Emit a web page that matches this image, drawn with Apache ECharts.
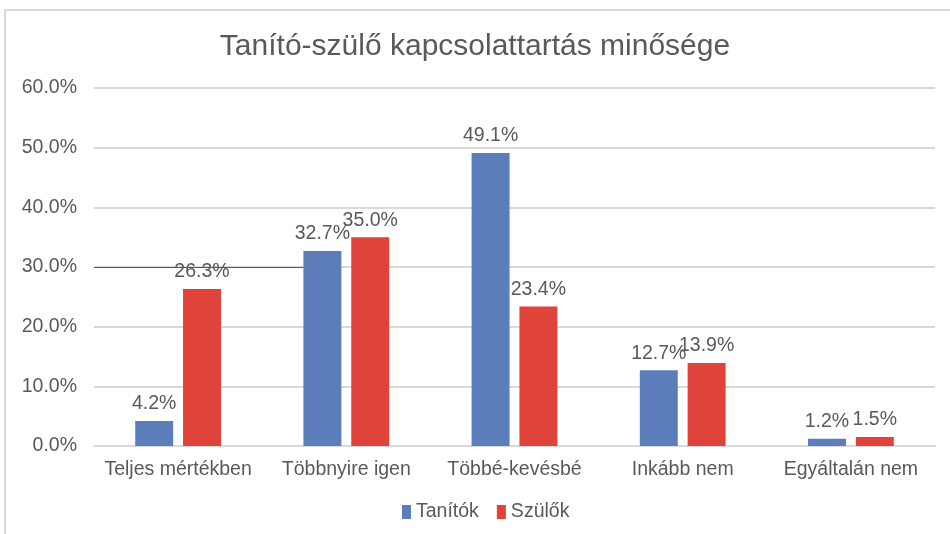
<!DOCTYPE html>
<html>
<head>
<meta charset="utf-8">
<script src="https://cdn.jsdelivr.net/npm/echarts@6/dist/echarts.min.js"></script>
<style>html,body{margin:0;padding:0;background:#fff}#c{width:950px;height:534px}</style>
</head>
<body>
<div id="c"></div>
<script>
var titleText = 'Tanító-szülő kapcsolattartás minősége';
var categories = ['Teljes mértékben', 'Többnyire igen', 'Többé-kevésbé', 'Inkább nem', 'Egyáltalán nem'];
var seriesNames = ['Tanítók', 'Szülők'];
var tanitok = [4.2, 32.7, 49.1, 12.7, 1.2];
var szulok = [26.3, 35.0, 23.4, 13.9, 1.5];
var yTicks = [0, 10, 20, 30, 40, 50, 60];

var txt = '#595959';
var font = 'Liberation Sans';
var fs = 19.5;
var barGapFrac = 0.26, catGapFrac = 0.49;
var chart = echarts.init(document.getElementById('c'));
function lbl() {
  return {show: true, position: 'top', distance: 7, color: txt, fontFamily: font, fontSize: fs,
    formatter: function (p) { return p.value.toFixed(1) + '%'; }};
}
chart.setOption({
  animation: false,
  title: {text: titleText, left: 'center', top: 27,
    textStyle: {color: txt, fontFamily: font, fontWeight: 'normal', fontSize: 30}},
  legend: {bottom: 7, left: 397, itemWidth: 9, itemHeight: 14, itemGap: 18,
    icon: 'rect', textStyle: {color: txt, fontFamily: font, fontSize: fs},
    data: seriesNames},
  grid: {left: 94, right: 15, top: 88, bottom: 88, containLabel: false},
  xAxis: {type: 'category', data: categories,
    axisLine: {lineStyle: {color: '#d9d9d9', width: 2}}, axisTick: {show: false},
    axisLabel: {color: txt, fontFamily: font, fontSize: fs, margin: 14, interval: 0}},
  yAxis: {type: 'value', min: yTicks[0], max: yTicks[yTicks.length - 1], interval: 10,
    axisLine: {show: false}, axisTick: {show: false},
    splitLine: {lineStyle: {color: '#d9d9d9', width: 2}},
    axisLabel: {color: txt, fontFamily: font, fontSize: fs, margin: 17,
      formatter: function (v) { return v.toFixed(1) + '%'; }}},
  series: [
    {name: seriesNames[0], type: 'bar', data: tanitok, barGap: (barGapFrac * 100) + '%', barCategoryGap: (catGapFrac * 100) + '%',
      itemStyle: {color: '#5b7dba'}, label: lbl()},
    {name: seriesNames[1], type: 'bar', data: szulok,
      itemStyle: {color: '#e0433a'}, label: lbl()}
  ]
});
// decorative frame and stray line at 30%
var y30 = chart.convertToPixel({yAxisIndex: 0}, 30);
var xStart = chart.convertToPixel({xAxisIndex: 0}, categories[0]);
var xCat2 = chart.convertToPixel({xAxisIndex: 0}, categories[1]);
var catW = xCat2 - xStart;
var barW = catW * (1 - catGapFrac) / (2 + barGapFrac);
var lineEnd = xCat2 - barW * (1 + barGapFrac / 2);
chart.setOption({
  graphic: [
    {type: 'line', shape: {x1: 4, y1: 10, x2: 950, y2: 10}, style: {stroke: '#d9d9d9', lineWidth: 2}},
    {type: 'line', shape: {x1: 5, y1: 10, x2: 5, y2: 534}, style: {stroke: '#d9d9d9', lineWidth: 2}},
    {type: 'line', shape: {x1: xStart - catW / 2, y1: Math.round(y30) + 0.5, x2: lineEnd, y2: Math.round(y30) + 0.5},
      style: {stroke: '#595959', lineWidth: 1}}
  ]
});
</script>
</body>
</html>
